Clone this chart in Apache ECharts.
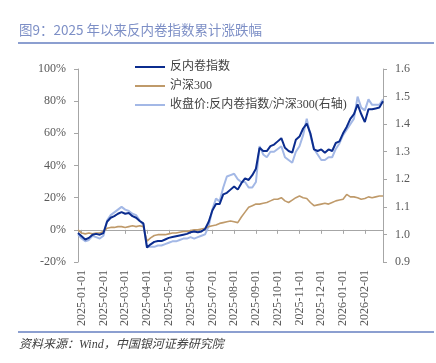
<!DOCTYPE html>
<html><head><meta charset="utf-8">
<script src="https://cdn.jsdelivr.net/npm/echarts@6/dist/echarts.min.js"></script>
<style>html,body{margin:0;padding:0;background:#fff}#c{width:436px;height:363px}</style>
</head><body><div id="c"></div>
<script>
const dates = [
'2024-12-31',
'2025-01-01','2025-01-06','2025-01-11','2025-01-16','2025-01-21','2025-01-26',
'2025-02-01','2025-02-06','2025-02-11','2025-02-16','2025-02-21','2025-02-26',
'2025-03-01','2025-03-06','2025-03-11','2025-03-16','2025-03-21','2025-03-26',
'2025-04-01','2025-04-06','2025-04-11','2025-04-16','2025-04-21','2025-04-26',
'2025-05-01','2025-05-06','2025-05-11','2025-05-16','2025-05-21','2025-05-26',
'2025-06-01','2025-06-06','2025-06-11','2025-06-16','2025-06-21','2025-06-26',
'2025-07-01','2025-07-06','2025-07-11','2025-07-16','2025-07-21','2025-07-26',
'2025-08-01','2025-08-06','2025-08-11','2025-08-16','2025-08-21','2025-08-26',
'2025-09-01','2025-09-06','2025-09-11','2025-09-16','2025-09-21','2025-09-26',
'2025-10-01','2025-10-06','2025-10-11','2025-10-16','2025-10-21','2025-10-26',
'2025-11-01','2025-11-06','2025-11-11','2025-11-16','2025-11-21','2025-11-26',
'2025-12-01','2025-12-06','2025-12-11','2025-12-16','2025-12-21','2025-12-26',
'2026-01-01','2026-01-06','2026-01-11','2026-01-16','2026-01-21','2026-01-26',
'2026-02-01','2026-02-06','2026-02-11','2026-02-16','2026-02-21','2026-02-26'
];
// 反内卷指数 cumulative change (%)
const antiInvolution = [
-2,-4,-6,-5,-3,-2.5,-3,
-2,5,7.5,8.5,10,11,
10,10.5,8.5,7.5,5.5,4,
-11,-9,-7.5,-7,-7,-6,
-5,-4.5,-4,-3.5,-3,-2.5,
-1.5,-1,-1.5,-1,0.5,5,
12,16,16,22,23,25,
27,25,29,32,31,34,
38,51,49,49,52,53,
55,57,51,49,48,56,
58,63,66,60,50,49,
50,48,50,49,54,55,
60,64,69,72,78,72,
67,75,75,75.5,76,80
];
// 沪深300 cumulative change (%)
const hs300 = [
0,-2,-2.5,-2,-2.5,-2,-2,
-1,1,1.5,1.5,2,2,
1.5,2,2.5,2,2.5,2,
-7,-5,-3.5,-3,-3,-3,
-2.5,-2,-2,-1.5,-1,-1,
-0.5,0,0,0.5,1,2,
2.5,3,4,4.5,5,5.5,
5,4.5,8,11,14,15,
16,16,16.5,17,18,19,
19,20,18,17,18.5,20,
21,20,19.5,17,15,15.5,
16,16.5,16,17,18,18.5,
19,22,20.5,20.5,20,19,
19.5,20.5,20,20.5,21,21
];
// 收盘价:反内卷指数/沪深300 (right axis)
const ratio = [
1.00,0.985,0.975,0.98,0.995,0.99,0.985,
0.995,1.05,1.07,1.08,1.09,1.10,
1.09,1.085,1.075,1.07,1.05,1.035,
0.955,0.955,0.955,0.96,0.96,0.965,
0.97,0.975,0.975,0.98,0.985,0.985,
0.99,0.985,0.99,0.995,1.0,1.03,
1.09,1.13,1.12,1.17,1.21,1.215,
1.22,1.20,1.19,1.19,1.17,1.17,
1.19,1.32,1.29,1.28,1.30,1.30,
1.31,1.32,1.28,1.27,1.26,1.30,
1.32,1.36,1.42,1.36,1.31,1.29,
1.27,1.27,1.28,1.28,1.31,1.33,
1.36,1.38,1.40,1.42,1.50,1.46,
1.45,1.49,1.47,1.47,1.47,1.49
];
const seriesNames = ['反内卷指数','沪深300','收盘价:反内卷指数/沪深300(右轴)'];
const titleText = '图9：2025 年以来反内卷指数累计涨跌幅';
const sourceText = '资料来源：Wind，中国银河证券研究院';

const serif = "'Liberation Serif','Noto Sans CJK SC'";
const axisGray = '#a6a6a6';
const labelGray = '#595959';
const isMonthStart = (i, v) => i > 0 && /-01$/.test(v);

const chart = echarts.init(document.getElementById('c'), null, {renderer:'canvas'});
chart.setOption({
  animation:false,
  backgroundColor:'#fff',
  grid:{left:78,right:53,top:69,bottom:101,containLabel:false},
  legend:{
    orient:'vertical', left:130, top:56, itemWidth:30, itemHeight:2, itemGap:7,
    icon:'rect',
    data:seriesNames,
    textStyle:{fontFamily:serif,fontSize:12,color:'#404040'}
  },
  xAxis:[{
    type:'category', data:dates, boundaryGap:false,
    axisLine:{show:false,onZero:false}, axisTick:{show:false},
    axisLabel:{rotate:90, interval:isMonthStart, margin:8, fontFamily:'Liberation Serif', fontSize:12, color:labelGray},
    splitLine:{show:false}
  },{
    type:'category', data:dates, boundaryGap:false, position:'bottom',
    axisLine:{show:true,onZero:true,onZeroAxisIndex:0,lineStyle:{color:axisGray,width:1}},
    axisTick:{show:true,interval:isMonthStart,length:4,lineStyle:{color:axisGray}},
    axisLabel:{show:false}, splitLine:{show:false}
  }],
  yAxis:[{
    type:'value', min:-20, max:100, interval:20,
    axisLine:{show:true,lineStyle:{color:axisGray}},
    axisTick:{show:true,length:4,lineStyle:{color:axisGray}},
    axisLabel:{formatter:'{value}%', margin:12, fontFamily:'Liberation Serif', fontSize:12, color:labelGray},
    splitLine:{show:false}
  },{
    type:'value', min:0.9, max:1.6, interval:0.1,
    axisLine:{show:true,lineStyle:{color:axisGray}},
    axisTick:{show:true,length:4,lineStyle:{color:axisGray}},
    axisLabel:{formatter:v=>v.toFixed(1), margin:12, fontFamily:'Liberation Serif', fontSize:12, color:labelGray},
    splitLine:{show:false}
  }],
  series:[
    {name:seriesNames[0], type:'line', data:antiInvolution, yAxisIndex:0, xAxisIndex:0, symbol:'none', color:'#0b2c8e', lineStyle:{width:2,color:'#0b2c8e'}, z:4},
    {name:seriesNames[1], type:'line', data:hs300, yAxisIndex:0, xAxisIndex:0, symbol:'none', color:'#bf9a6a', lineStyle:{width:1.6,color:'#bf9a6a'}, z:3},
    {name:seriesNames[2], type:'line', data:ratio, yAxisIndex:1, xAxisIndex:0, symbol:'none', color:'#a3b8e6', lineStyle:{width:2,color:'#a3b8e6'}, z:2}
  ],
  graphic:[
    {type:'text', left:19, top:23, style:{text:titleText, font:"13.5px 'Noto Sans CJK SC'", fill:'#7d8fc6'}},
    {type:'rect', shape:{x:18,y:42,width:416,height:2}, style:{fill:'#8c9fd0'}},
    {type:'rect', shape:{x:18,y:331,width:416,height:2}, style:{fill:'#8c9fd0'}},
    {type:'text', left:19, top:339, style:{text:sourceText, font:"italic 12px 'Liberation Serif','Noto Sans CJK SC'", fill:'#404040'}}
  ]
});
</script></body></html>
